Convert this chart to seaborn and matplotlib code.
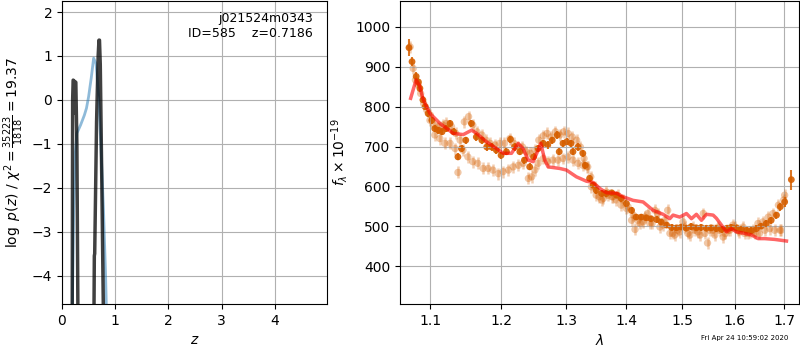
import matplotlib
matplotlib.use('Agg')
import matplotlib.pyplot as plt
import seaborn as sns
from matplotlib.ticker import NullLocator

# p(z) curves
z_fine = [0.15, 0.19, 0.20, 0.21, 0.22, 0.225, 0.23, 0.24, 0.26, 0.28, 0.30, 0.32, 0.45,
          0.58, 0.608, 0.615, 0.65, 0.68, 0.695, 0.705, 0.72, 0.75, 0.78, 0.80, 0.9]
logp_fine = [-9, -6, 0.0, 0.45, 0.44, -0.3, 0.42, 0.42, 0.40, -1.0, -5, -9, -9,
             -9, -3.55, -3.5, -0.5, 1.0, 1.36, 1.36, 0.8, -2.0, -5, -9, -9]
z_coarse = [0.18, 0.22, 0.25, 0.28, 0.35, 0.42, 0.46, 0.50, 0.55, 0.595, 0.64, 0.69, 0.73, 0.78, 0.82, 0.86]
logp_coarse = [-6, -2.5, -1.2, -0.76, -0.57, -0.35, -0.19, 0.07, 0.5, 0.95, 0.83, 0.07, -1.0, -2.5, -4.0, -6]

# spectrum, combined points
dark_wave = [1.0715, 1.0755, 1.081, 1.084, 1.086, 1.090, 1.093, 1.097, 1.102, 1.106,
             1.111, 1.116, 1.122, 1.127, 1.132, 1.138, 1.143, 1.149, 1.157, 1.164,
             1.172, 1.179, 1.186, 1.193, 1.200, 1.208, 1.214, 1.220, 1.228, 1.235,
             1.243, 1.249, 1.256, 1.264, 1.271, 1.278, 1.286, 1.289, 1.295, 1.301,
             1.308, 1.311, 1.319, 1.327, 1.331, 1.338, 1.344, 1.349, 1.358, 1.366,
             1.375, 1.383, 1.391, 1.400, 1.409, 1.417, 1.426, 1.435, 1.443, 1.453,
             1.461, 1.471, 1.480, 1.489, 1.498, 1.507, 1.516, 1.526, 1.535, 1.545,
             1.554, 1.564, 1.574, 1.584, 1.593, 1.603, 1.613, 1.623, 1.633, 1.643,
             1.652, 1.663, 1.673, 1.684, 1.692, 1.701, 1.715]
dark_flux = [948, 913, 876, 862, 846, 817, 800, 783, 766, 745,
             741, 737, 745, 758, 737, 674, 695, 716, 758, 724,
             716, 699, 699, 691, 678, 687, 718, 699, 687, 666,
             649, 674, 695, 708, 704, 716, 729, 687, 708, 712,
             708, 687, 699, 683, 653, 620, 603, 590, 582, 582,
             584, 578, 570, 557, 540, 523, 523, 521, 519, 517,
             511, 503, 497, 496, 498, 495, 499, 496, 497, 495,
             496, 494, 492, 495, 497, 496, 493, 490, 489, 494,
             500, 507, 515, 528, 549, 561, 617]
dark_err = [22, 12, 12, 10, 10, 9, 9, 9, 9, 9,
            9, 9, 9, 9, 9, 9, 9, 9, 9, 9,
            9, 9, 9, 9, 9, 9, 9, 9, 9, 9,
            9, 9, 9, 9, 9, 9, 9, 9, 9, 9,
            9, 9, 9, 9, 9, 8, 8, 8, 8, 8,
            8, 8, 8, 8, 8, 8, 8, 8, 8, 8,
            8, 8, 8, 8, 8, 8, 8, 8, 8, 8,
            8, 8, 8, 8, 8, 8, 8, 8, 8, 8,
            8, 9, 9, 9, 10, 12, 25]

# individual beams
beam_a_wave = [1.073, 1.077, 1.080, 1.084, 1.087, 1.091, 1.095, 1.100, 1.105, 1.111,
               1.117, 1.122, 1.129, 1.135, 1.141, 1.147, 1.153, 1.159, 1.165, 1.172,
               1.178, 1.184, 1.191, 1.198, 1.205, 1.213, 1.219, 1.226, 1.232, 1.238,
               1.244, 1.251, 1.257, 1.264, 1.270, 1.276, 1.283, 1.290, 1.296, 1.303,
               1.310, 1.317, 1.323, 1.329, 1.335, 1.340, 1.347, 1.354, 1.361, 1.369,
               1.377, 1.385, 1.394, 1.403, 1.412, 1.420, 1.429, 1.437, 1.445, 1.455,
               1.465, 1.473, 1.482, 1.491, 1.501, 1.510, 1.519, 1.529, 1.539, 1.547,
               1.557, 1.567, 1.577, 1.587, 1.596, 1.606, 1.616, 1.626, 1.636, 1.646,
               1.656, 1.667, 1.677, 1.688, 1.694, 1.701]
beam_a_flux = [950, 896, 867, 855, 833, 808, 792, 779, 754, 750,
               754, 758, 750, 733, 716, 762, 775, 754, 737, 729,
               716, 708, 704, 708, 708, 720, 708, 699, 699, 687,
               683, 691, 716, 727, 733, 724, 737, 729, 737, 733,
               724, 716, 699, 670, 649, 624, 599, 574, 570, 578,
               574, 578, 566, 549, 528, 515, 511, 532, 507, 532,
               503, 540, 482, 490, 511, 482, 498, 486, 532, 458,
               490, 498, 473, 490, 503, 490, 498, 482, 490, 507,
               511, 523, 532, 553, 490, 578]
beam_b_wave = [1.0995, 1.106, 1.113, 1.120, 1.127, 1.134, 1.138, 1.145, 1.152, 1.159,
               1.166, 1.174, 1.181, 1.188, 1.196, 1.203, 1.211, 1.218, 1.226, 1.233,
               1.241, 1.246, 1.251, 1.256, 1.264, 1.271, 1.279, 1.287, 1.295, 1.303,
               1.311, 1.319, 1.327, 1.333, 1.341, 1.349, 1.358, 1.366, 1.375, 1.383,
               1.391, 1.400, 1.409, 1.415, 1.424, 1.432, 1.441, 1.450, 1.459, 1.468,
               1.477, 1.486, 1.495, 1.504, 1.514, 1.523, 1.533, 1.542, 1.551, 1.561,
               1.570, 1.581, 1.590, 1.600, 1.609, 1.619, 1.629, 1.640, 1.649, 1.660,
               1.670, 1.680, 1.691, 1.699]
beam_b_flux = [766, 729, 720, 708, 708, 695, 635, 691, 674, 662,
               658, 645, 645, 641, 632, 637, 641, 649, 653, 658,
               620, 624, 641, 658, 670, 662, 666, 666, 670, 674,
               666, 658, 653, 649, 599, 578, 566, 586, 574, 566,
               553, 545, 515, 492, 507, 523, 507, 540, 498, 515,
               482, 478, 486, 498, 478, 490, 478, 482, 490, 478,
               490, 482, 490, 498, 486, 482, 486, 482, 482, 490,
               494, 490, 490, 566]
beam_err = 15

# best-fit model
model_wave = [1.0737, 1.0808, 1.0852, 1.0906, 1.0995, 1.1131, 1.1314, 1.1455, 1.1573, 1.1644,
              1.1787, 1.1933, 1.2031, 1.2155, 1.2255, 1.2330, 1.2406, 1.2483, 1.2560, 1.2601,
              1.2663, 1.2715, 1.2899, 1.3005, 1.3166, 1.3329, 1.3439, 1.3549, 1.3661, 1.3830,
              1.3944, 1.4116, 1.4291, 1.4468, 1.4647, 1.4768, 1.4828, 1.4950, 1.5074, 1.5167,
              1.5260, 1.5355, 1.5450, 1.5577, 1.5640, 1.5737, 1.5834, 1.5932, 1.6030, 1.6195,
              1.6330, 1.6463, 1.6598, 1.6804, 1.7048]
model_flux = [821, 867, 854, 817, 783, 758, 733, 730, 741, 733,
              712, 695, 683, 683, 708, 695, 666, 662, 691, 708,
              666, 649, 645, 641, 624, 613, 610, 595, 584, 583,
              574, 565, 561, 540, 530, 519, 528, 523, 532, 519,
              530, 515, 530, 528, 520, 503, 486, 494, 486, 482,
              478, 469, 469, 467, 463]

wave_ticks = [1.1, 1.2, 1.3, 1.4, 1.5, 1.6, 1.7]
orange = '#d65f00'

fig = plt.figure(figsize=(8, 3.5), dpi=100)
ax1 = fig.add_axes([0.0775, 0.131, 0.331, 0.866])
ax2 = fig.add_axes([0.5, 0.131, 0.499, 0.866])

# p(z) panel
sns.lineplot(x=z_coarse, y=logp_coarse, sort=False, estimator=None, ax=ax1,
             color='#1f77b4', alpha=0.5, linewidth=2)
sns.lineplot(x=z_fine, y=logp_fine, sort=False, estimator=None, ax=ax1,
             color='k', alpha=0.75, linewidth=2.5)
ax1.set_xlim(0, 4.98)
ax1.set_ylim(-4.65, 2.25)
ax1.set_xticks([0, 1, 2, 3, 4])
ax1.set_yticks([-4, -3, -2, -1, 0, 1, 2])
ax1.grid()
ax1.set_xlabel(r'$z$')
ax1.set_ylabel(r'$\log\ p(z)$' + ' / ' + r'$\chi^2=\frac{35223}{1818}=19.37$')
ax1.text(0.947, 0.965, 'j021524m0343\nID=585    z=0.7186', ha='right', va='top',
         transform=ax1.transAxes, fontsize=9)

# spectrum panel
for w, f in [(beam_a_wave, beam_a_flux), (beam_b_wave, beam_b_flux)]:
    ax2.errorbar(w, f, yerr=beam_err, fmt='none', ecolor=orange, alpha=0.3, elinewidth=1.8)
    sns.scatterplot(x=w, y=f, ax=ax2, color=orange, alpha=0.35, s=28, edgecolor='none')
ax2.errorbar(dark_wave, dark_flux, yerr=dark_err, fmt='none', ecolor=orange, alpha=0.85,
             elinewidth=1.5)
sns.scatterplot(x=dark_wave, y=dark_flux, ax=ax2, color=orange, alpha=0.9, s=24, edgecolor='none')
sns.lineplot(x=model_wave, y=model_flux, sort=False, estimator=None, ax=ax2,
             color='r', alpha=0.6, linewidth=2.5, zorder=10)

ax2.set_xscale('log')
ax2.set_xticks(wave_ticks)
ax2.set_xticklabels([f'{t:.1f}' for t in wave_ticks])
ax2.xaxis.set_minor_locator(NullLocator())
ax2.set_xlim(1.0597, 1.7317)
ax2.set_ylim(304.6, 1065)
ax2.set_yticks([400, 500, 600, 700, 800, 900, 1000])
ax2.grid()
ax2.set_xlabel(r'$\lambda$')
ax2.set_ylabel(r'$f_\lambda\times10^{-19}$')

fig.text(0.985, 0.025, 'Fri Apr 24 10:59:02 2020', ha='right', va='bottom', fontsize=5)

fig.savefig('out.png', dpi=100)
